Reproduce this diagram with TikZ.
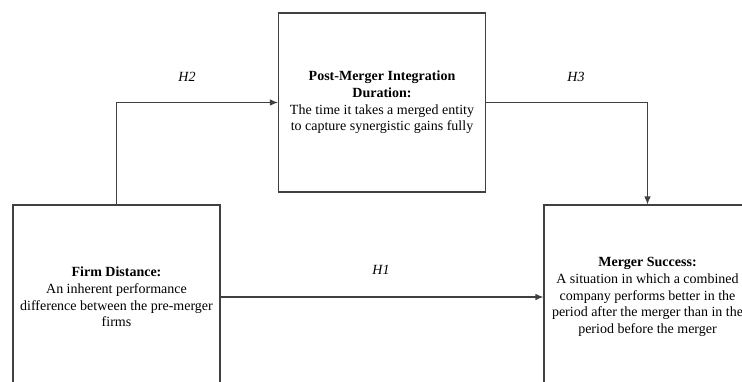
\documentclass[tikz,border=0pt]{standalone}
\usepackage{fontspec}
\setmainfont{Liberation Serif}
\usetikzlibrary{arrows.meta}
\begin{document}
\begin{tikzpicture}[x=1pt,y=-1pt,
  box/.style={draw=black!75,line width=1.1pt,rectangle,minimum width=207pt,
    align=center,font=\fontsize{14}{16.6}\selectfont,inner sep=0pt},
  link/.style={draw=black!75,line width=1.1pt,-{Latex[length=8pt,width=6.5pt]}},
  hyp/.style={font=\fontsize{14}{16}\selectfont\itshape}]
  \clip (0,0) rectangle (742,381);
  \useasboundingbox (0,0) rectangle (742,381);
  % three constructs of the model
  \node[box,minimum height=184pt] (fd) at (116.5,297)
    {\textbf{Firm Distance:}\\An inherent performance\\difference between the pre-merger\\firms};
  \node[box,minimum height=179pt] (pmi) at (382,102.5)
    {\textbf{Post-Merger Integration}\\\textbf{Duration:}\\The time it takes a merged entity\\to capture synergistic gains fully};
  \node[box,minimum height=184pt] (ms) at (647.5,297)
    {\textbf{Merger Success:}\\A situation in which a combined\\company performs better in the\\period after the merger than in the\\period before the merger};
  % hypothesised paths
  \draw[link] (fd.north) |- (pmi.west);
  \draw[link] (pmi.east) -| (ms.north);
  \draw[link] (fd.east) -- (ms.west);
  \node[hyp] (h2) at (187,77) {H2};
  \node[hyp] (h3) at (576,77) {H3};
  \node[hyp] (h1) at (381,270) {H1};
\end{tikzpicture}
\end{document}
